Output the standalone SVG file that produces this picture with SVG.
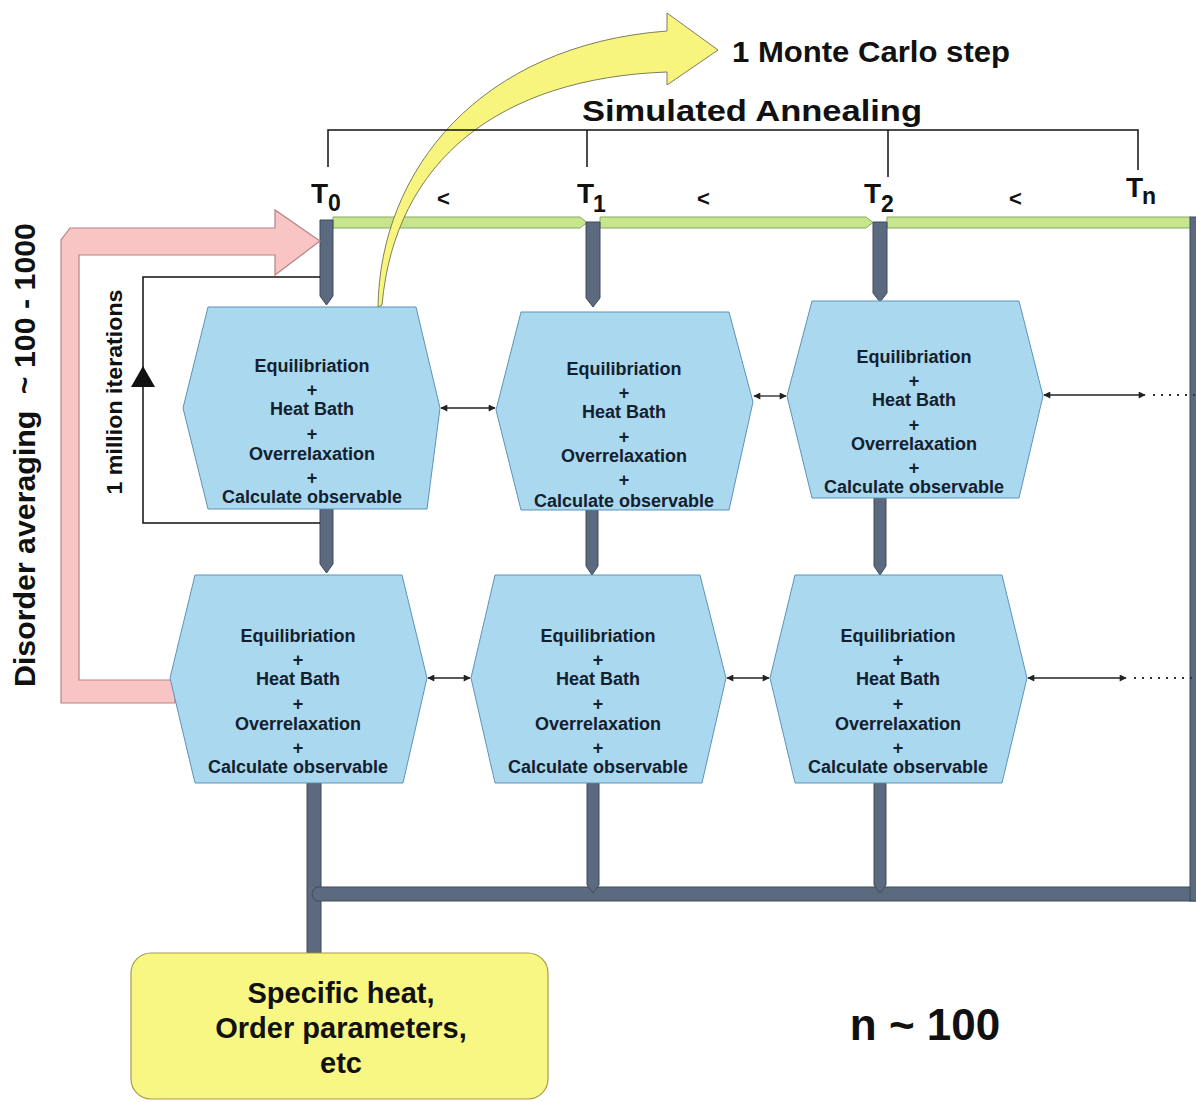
<svg xmlns="http://www.w3.org/2000/svg" width="1196" height="1102" viewBox="0 0 1196 1102">
<defs>
<style>
text{font-family:"Liberation Sans",Arial,sans-serif;font-weight:bold;fill:#111}
.hx{fill:#a9d8ef;stroke:#5f93b8;stroke-width:1}
.ht{font-size:18px;fill:#14202e;text-anchor:middle}
.bar{fill:#5b6a7f;stroke:#3f4b5c;stroke-width:1}
.grn{fill:#c6e58c;stroke:#8aa860;stroke-width:1}
.br{fill:none;stroke:#111;stroke-width:1.5}
.dbl{fill:none;stroke:#222;stroke-width:1.3;marker-start:url(#ah);marker-end:url(#ah)}
.dot{fill:none;stroke:#333;stroke-width:2;stroke-dasharray:2 6}
.tl{font-size:28px}
.sb{font-size:23px}
.lt{font-size:22px}
</style>
<marker id="ah" viewBox="0 0 10 10" refX="9" refY="5" markerWidth="8" markerHeight="7" markerUnits="userSpaceOnUse" orient="auto-start-reverse">
<path d="M0,0 L10,5 L0,10 Z" fill="#222"/>
</marker>
</defs>
<rect width="1196" height="1102" fill="#fff"/>

<g id="connectors">
<path class="grn" d="M333,217 H580 L587,222.5 L580,228 H333 Z"/>
<path class="grn" d="M600,217 H866 L873,222.5 L866,228 H600 Z"/>
<path class="grn" d="M887,217 H1191 V228 H887 Z"/>
<path class="bar" d="M320,220 H333 V296 L326.5,305 L320,296 Z"/>
<path class="bar" d="M320,509 H333 V564 L326.5,573 L320,564 Z"/>
<rect class="bar" x="307" y="783" width="14" height="170"/>
<path class="bar" d="M316,887 H1196 V901 H316 Q308,894 316,887 Z"/>
<rect class="bar" x="1190" y="217" width="7" height="684"/>
<path class="bar" d="M586,222 H600 V298 L593,307 L586,298 Z"/>
<path class="bar" d="M586,510 H598 V566 L592,575 L586,566 Z"/>
<path class="bar" d="M587,783 H599 V885 L593,893 L587,885 Z"/>
<path class="bar" d="M873,222 H887 V293 L880,302 L873,293 Z"/>
<path class="bar" d="M874,498 H886 V566 L880,575 L874,566 Z"/>
<path class="bar" d="M874,783 H886 V885 L880,893 L874,885 Z"/>
<path d="M61,703 V240 L70,228 H275 V210 L320,241 L275,275 V255 H79 V680 H175 V703 Z" fill="#f8c4c4" stroke="#b38585" stroke-width="1.2"/>
<path class="br" d="M320,277 H143 V523 H320" stroke-width="2"/>
<path d="M143,366 L155,387 L131,387 Z" fill="#111"/>
<path d="M378,307 C380,170 480,45 667,31 L667,13 L718,50 L667,85 L667,72 C500,78 395,160 382,305 Z" fill="#f7f57e" stroke="#6f6f50" stroke-width="0.9"/>
<path class="br" d="M328,167 V130 H1138 V170 M587,130 V167 M888,130 V177"/>
<line class="dbl" x1="441" y1="408" x2="495" y2="408"/>
<line class="dbl" x1="754" y1="396" x2="786" y2="396"/>
<line class="dbl" x1="1044" y1="395" x2="1145" y2="395"/>
<line class="dot" x1="1153" y1="395" x2="1196" y2="395"/>
<line class="dbl" x1="428" y1="678" x2="470" y2="678"/>
<line class="dbl" x1="727" y1="678" x2="769" y2="678"/>
<line class="dbl" x1="1028" y1="678" x2="1126" y2="678"/>
<line class="dot" x1="1134" y1="678" x2="1196" y2="678"/>
</g>

<g id="labels">
<text x="732" y="62" font-size="30" textLength="278" lengthAdjust="spacingAndGlyphs">1 Monte Carlo step</text>
<text x="582" y="121" font-size="30" textLength="340" lengthAdjust="spacingAndGlyphs">Simulated Annealing</text>
<text class="tl" x="311" y="203">T</text><text class="sb" x="328" y="211">0</text>
<text class="tl" x="577" y="203">T</text><text class="sb" x="593" y="212">1</text>
<text class="tl" x="864" y="203">T</text><text class="sb" x="881" y="212">2</text>
<text class="tl" x="1126" y="197">T</text><text class="sb" x="1142" y="204">n</text>
<text class="lt" x="437" y="206">&lt;</text>
<text class="lt" x="697" y="206">&lt;</text>
<text class="lt" x="1009" y="206">&lt;</text>
<text transform="translate(35,455) rotate(-90)" font-size="30" text-anchor="middle" textLength="464" lengthAdjust="spacingAndGlyphs">Disorder averaging <tspan dx="8">~ 100 - 1000</tspan></text>
<text transform="translate(122,392) rotate(-90)" font-size="22" text-anchor="middle" textLength="205" lengthAdjust="spacingAndGlyphs">1 million iterations</text>
<text x="925" y="1040" font-size="44" text-anchor="middle">n ~ 100</text>
</g>

<g id="node-r1c0">
<polygon class="hx" points="208,307 416,307 440,408 427,509 208,509 183,408"/>
<text class="ht" x="312" y="372">Equilibriation</text><text class="ht" x="312" y="396">+</text>
<text class="ht" x="312" y="415">Heat Bath</text><text class="ht" x="312" y="440">+</text>
<text class="ht" x="312" y="460">Overrelaxation</text><text class="ht" x="312" y="484">+</text>
<text class="ht" x="312" y="503">Calculate observable</text>
</g>
<g id="node-r1c1">
<polygon class="hx" points="521,312 729,312 753,402 729,510 521,510 496,410"/>
<text class="ht" x="624" y="375">Equilibriation</text><text class="ht" x="624" y="399">+</text>
<text class="ht" x="624" y="418">Heat Bath</text><text class="ht" x="624" y="443">+</text>
<text class="ht" x="624" y="462">Overrelaxation</text><text class="ht" x="624" y="486">+</text>
<text class="ht" x="624" y="507">Calculate observable</text>
</g>
<g id="node-r1c2">
<polygon class="hx" points="812,301 1019,301 1043,396 1019,498 812,498 787,396"/>
<text class="ht" x="914" y="363">Equilibriation</text><text class="ht" x="914" y="387">+</text>
<text class="ht" x="914" y="406">Heat Bath</text><text class="ht" x="914" y="431">+</text>
<text class="ht" x="914" y="450">Overrelaxation</text><text class="ht" x="914" y="474">+</text>
<text class="ht" x="914" y="493">Calculate observable</text>
</g>
<g id="node-r2c0">
<polygon class="hx" points="195,575 402,575 427,678 403,783 195,783 170,678"/>
<text class="ht" x="298" y="642">Equilibriation</text><text class="ht" x="298" y="666">+</text>
<text class="ht" x="298" y="685">Heat Bath</text><text class="ht" x="298" y="710">+</text>
<text class="ht" x="298" y="730">Overrelaxation</text><text class="ht" x="298" y="754">+</text>
<text class="ht" x="298" y="773">Calculate observable</text>
</g>
<g id="node-r2c1">
<polygon class="hx" points="495,575 700,575 726,678 702,783 495,783 471,678"/>
<text class="ht" x="598" y="642">Equilibriation</text><text class="ht" x="598" y="666">+</text>
<text class="ht" x="598" y="685">Heat Bath</text><text class="ht" x="598" y="710">+</text>
<text class="ht" x="598" y="730">Overrelaxation</text><text class="ht" x="598" y="754">+</text>
<text class="ht" x="598" y="773">Calculate observable</text>
</g>
<g id="node-r2c2">
<polygon class="hx" points="795,575 1002,575 1027,678 1002,783 795,783 770,678"/>
<text class="ht" x="898" y="642">Equilibriation</text><text class="ht" x="898" y="666">+</text>
<text class="ht" x="898" y="685">Heat Bath</text><text class="ht" x="898" y="710">+</text>
<text class="ht" x="898" y="730">Overrelaxation</text><text class="ht" x="898" y="754">+</text>
<text class="ht" x="898" y="773">Calculate observable</text>
</g>
<g id="node-results">
<rect x="131" y="953" width="417" height="146" rx="20" fill="#f9f783" stroke="#a79a45" stroke-width="1.2"/>
<text x="341" y="1003" font-size="29" text-anchor="middle">Specific heat,</text>
<text x="341" y="1038" font-size="29" text-anchor="middle">Order parameters,</text>
<text x="341" y="1073" font-size="29" text-anchor="middle">etc</text>
</g>
</svg>
